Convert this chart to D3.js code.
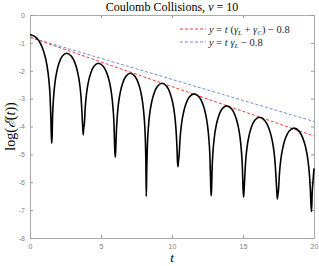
<!DOCTYPE html>
<html>
<head>
<meta charset="utf-8">
<script src="https://cdn.jsdelivr.net/npm/d3@7"></script>
<style>
    body { margin: 0; background: #fff; }
    .tick text { font-family: "Liberation Sans", Arial, sans-serif; font-size: 7px; fill: #808080; }
    .tick line { stroke: #999; }
    .domain { stroke: #aaa; }
    .serif { font-family: "Liberation Serif", "DejaVu Serif", serif; }
</style>
</head>
<body>
<div id="chart"></div>
<script>
// energy curve: time and log(E)
const t_vals = [
    0, 0.456, 0.76, 0.988, 1.186, 1.322, 1.414, 1.474, 1.52,
    1.552, 1.594, 1.658, 1.753, 1.891, 2.05, 2.262, 2.58,
    2.931, 3.165, 3.341, 3.493, 3.598, 3.668, 3.715, 3.75,
    3.782, 3.824, 3.888, 3.983, 4.121, 4.28, 4.492, 4.81,
    5.167, 5.405, 5.584, 5.738, 5.845, 5.917, 5.964, 6.0,
    6.032, 6.074, 6.138, 6.233, 6.371, 6.53, 6.742, 7.06,
    7.399, 7.625, 7.795, 7.941, 8.043, 8.111, 8.156, 8.19,
    8.223, 8.268, 8.334, 8.434, 8.579, 8.745, 8.967, 9.3,
    9.636, 9.86, 10.028, 10.174, 10.274, 10.342, 10.386, 10.42,
    10.454, 10.5, 10.568, 10.671, 10.819, 10.99, 11.218, 11.56,
    11.917, 12.155, 12.334, 12.488, 12.595, 12.667, 12.714, 12.75,
    12.783, 12.827, 12.893, 12.992, 13.135, 13.3, 13.52, 13.85,
    14.207, 14.445, 14.624, 14.778, 14.885, 14.957, 15.004, 15.04,
    15.073, 15.118, 15.184, 15.284, 15.429, 15.595, 15.817, 16.15,
    16.531, 16.785, 16.976, 17.141, 17.255, 17.331, 17.382, 17.42,
    17.455, 17.501, 17.571, 17.675, 17.826, 18.0, 18.232, 18.58,
    18.955, 19.205, 19.393, 19.555, 19.668, 19.743, 19.793, 19.83,
    19.87, 19.93, 20.0
];
const logE_vals = [
    -0.70, -0.815, -1.047, -1.35, -1.78, -2.30, -2.91, -3.76, -4.6,
    -4.43, -3.58, -2.97, -2.45, -2.02, -1.717, -1.485, -1.37,
    -1.485, -1.717, -2.02, -2.45, -2.97, -3.58, -4.05, -4.3,
    -4.05, -3.94, -3.33, -2.81, -2.38, -2.077, -1.845, -1.73,
    -1.845, -2.077, -2.38, -2.81, -3.33, -3.94, -4.79, -5.1,
    -4.9, -4.30, -3.69, -3.17, -2.74, -2.437, -2.205, -2.09,
    -2.205, -2.437, -2.74, -3.17, -3.69, -4.30, -5.15, -6.51,
    -5.51, -4.66, -4.05, -3.53, -3.10, -2.797, -2.565, -2.45,
    -2.565, -2.797, -3.10, -3.53, -4.05, -4.66, -5.25, -5.44,
    -5.25, -5.04, -4.43, -3.91, -3.48, -3.177, -2.945, -2.83,
    -2.945, -3.177, -3.48, -3.91, -4.43, -5.04, -5.89, -6.48,
    -6.32, -5.47, -4.86, -4.34, -3.91, -3.607, -3.375, -3.26,
    -3.375, -3.607, -3.91, -4.34, -4.86, -5.47, -6.25, -6.53,
    -6.3, -5.88, -5.27, -4.75, -4.32, -4.017, -3.785, -3.67,
    -3.785, -4.017, -4.32, -4.75, -5.27, -5.88, -6.35, -6.6,
    -6.45, -6.27, -5.66, -5.14, -4.71, -4.407, -4.175, -4.06,
    -4.175, -4.407, -4.71, -5.14, -5.66, -6.27, -6.85, -7.05,
    -6.4, -5.95, -5.5
];

// dashed fits: [t, y] end points
const fit_total = [[0, -0.8], [20, -4.34]];
const fit_landau = [[0, -0.8], [20, -3.82]];

const x_ticks = [0, 5, 10, 15, 20];
const y_ticks = [0, -1, -2, -3, -4, -5, -6, -7, -8];

const W = 319, H = 266;
const m_left = 30, m_right = 314, m_top = 15, m_bottom = 238;

let svg = d3.select("#chart")
    .append("svg")
    .attr("width", W)
    .attr("height", H);

let x = d3.scaleLinear().domain([0, 20]).range([m_left, m_right]);
let y = d3.scaleLinear().domain([-8, 0]).range([m_bottom, m_top]);

// axes, ticks inside on all four sides
svg.append("g")
    .attr("transform", "translate(0," + m_bottom + ")")
    .call(d3.axisBottom(x).tickValues(x_ticks).tickSize(-3).tickPadding(6).tickSizeOuter(0));
svg.append("g")
    .attr("transform", "translate(0," + m_top + ")")
    .call(d3.axisTop(x).tickValues(x_ticks).tickSize(-3).tickFormat("").tickSizeOuter(0));
svg.append("g")
    .attr("transform", "translate(" + m_left + ",0)")
    .call(d3.axisLeft(y).tickValues(y_ticks).tickSize(-3).tickPadding(5).tickSizeOuter(0)
        .tickFormat(d => d < 0 ? "-" + Math.abs(d) : d));
svg.append("g")
    .attr("transform", "translate(" + m_right + ",0)")
    .call(d3.axisRight(y).tickValues(y_ticks).tickSize(-3).tickFormat("").tickSizeOuter(0));

let line = d3.line()
    .x(d => x(d[0]))
    .y(d => y(d[1]));

// fits
svg.append("path")
    .datum(fit_landau)
    .attr("d", line)
    .attr("fill", "none")
    .attr("stroke", "#6f8fdc")
    .attr("stroke-width", 1)
    .attr("stroke-dasharray", "3,2");

svg.append("path")
    .datum(fit_total)
    .attr("d", line)
    .attr("fill", "none")
    .attr("stroke", "#ee3b3b")
    .attr("stroke-width", 1)
    .attr("stroke-dasharray", "3,2");

// energy curve
let curve_pts = t_vals.map((t, i) => [t, logE_vals[i]]);
svg.append("path")
    .datum(curve_pts)
    .attr("d", line.curve(d3.curveMonotoneX))
    .attr("fill", "none")
    .attr("stroke", "#000")
    .attr("stroke-width", 1.6)
    .attr("stroke-linejoin", "round");

// title
let title = svg.append("text")
    .attr("class", "serif")
    .attr("x", 172)
    .attr("y", 11)
    .attr("text-anchor", "middle")
    .attr("font-size", "12px");
title.append("tspan").text("Coulomb Collisions, ");
title.append("tspan").attr("font-style", "italic").text("ν");
title.append("tspan").text(" = 10");

// legend
let legend = [
    { color: "#ee3b3b", parts: [["y", "i"], [" = ", ""], ["t", "i"], [" (", ""], ["γ", "i"], ["L", "s"], [" + ", ""], ["γ", "i"], ["C", "s"], [") − 0.8", ""]] },
    { color: "#6f8fdc", parts: [["y", "i"], [" = ", ""], ["t", "i"], [" ", ""], ["γ", "i"], ["L", "s"], [" − 0.8", ""]] }
];
legend.forEach((d, i) => {
    let ly = 29 + i * 13;
    svg.append("line")
        .attr("x1", 180).attr("x2", 206)
        .attr("y1", ly).attr("y2", ly)
        .attr("stroke", d.color)
        .attr("stroke-width", 1)
        .attr("stroke-dasharray", "3,2");
    let txt = svg.append("text")
        .attr("class", "serif")
        .attr("x", 209)
        .attr("y", ly + 3.5)
        .attr("font-size", "10.5px")
        .attr("fill", "#222");
    let sub = false;
    d.parts.forEach(p => {
        let s = txt.append("tspan").text(p[0]);
        if (p[1] == "i") s.attr("font-style", "italic");
        if (p[1] == "s") {
            s.attr("font-style", "italic").attr("font-size", "7px").attr("dy", 2);
            sub = true;
        } else if (sub) {
            s.attr("dy", -2);
            sub = false;
        }
    });
});

// axis labels
let ylab = svg.append("text")
    .attr("class", "serif")
    .attr("transform", "translate(15," + ((m_top + m_bottom) / 2) + ") rotate(-90)")
    .attr("text-anchor", "middle")
    .attr("font-size", "14px");
ylab.append("tspan").text("log(");
ylab.append("tspan").attr("font-style", "italic").text("ℰ");
ylab.append("tspan").text("(");
ylab.append("tspan").attr("font-style", "italic").text("t");
ylab.append("tspan").text("))");

svg.append("text")
    .attr("class", "serif")
    .attr("x", 172)
    .attr("y", 262)
    .attr("text-anchor", "middle")
    .attr("font-size", "13px")
    .attr("font-style", "italic")
    .text("t");
</script>
</body>
</html>
